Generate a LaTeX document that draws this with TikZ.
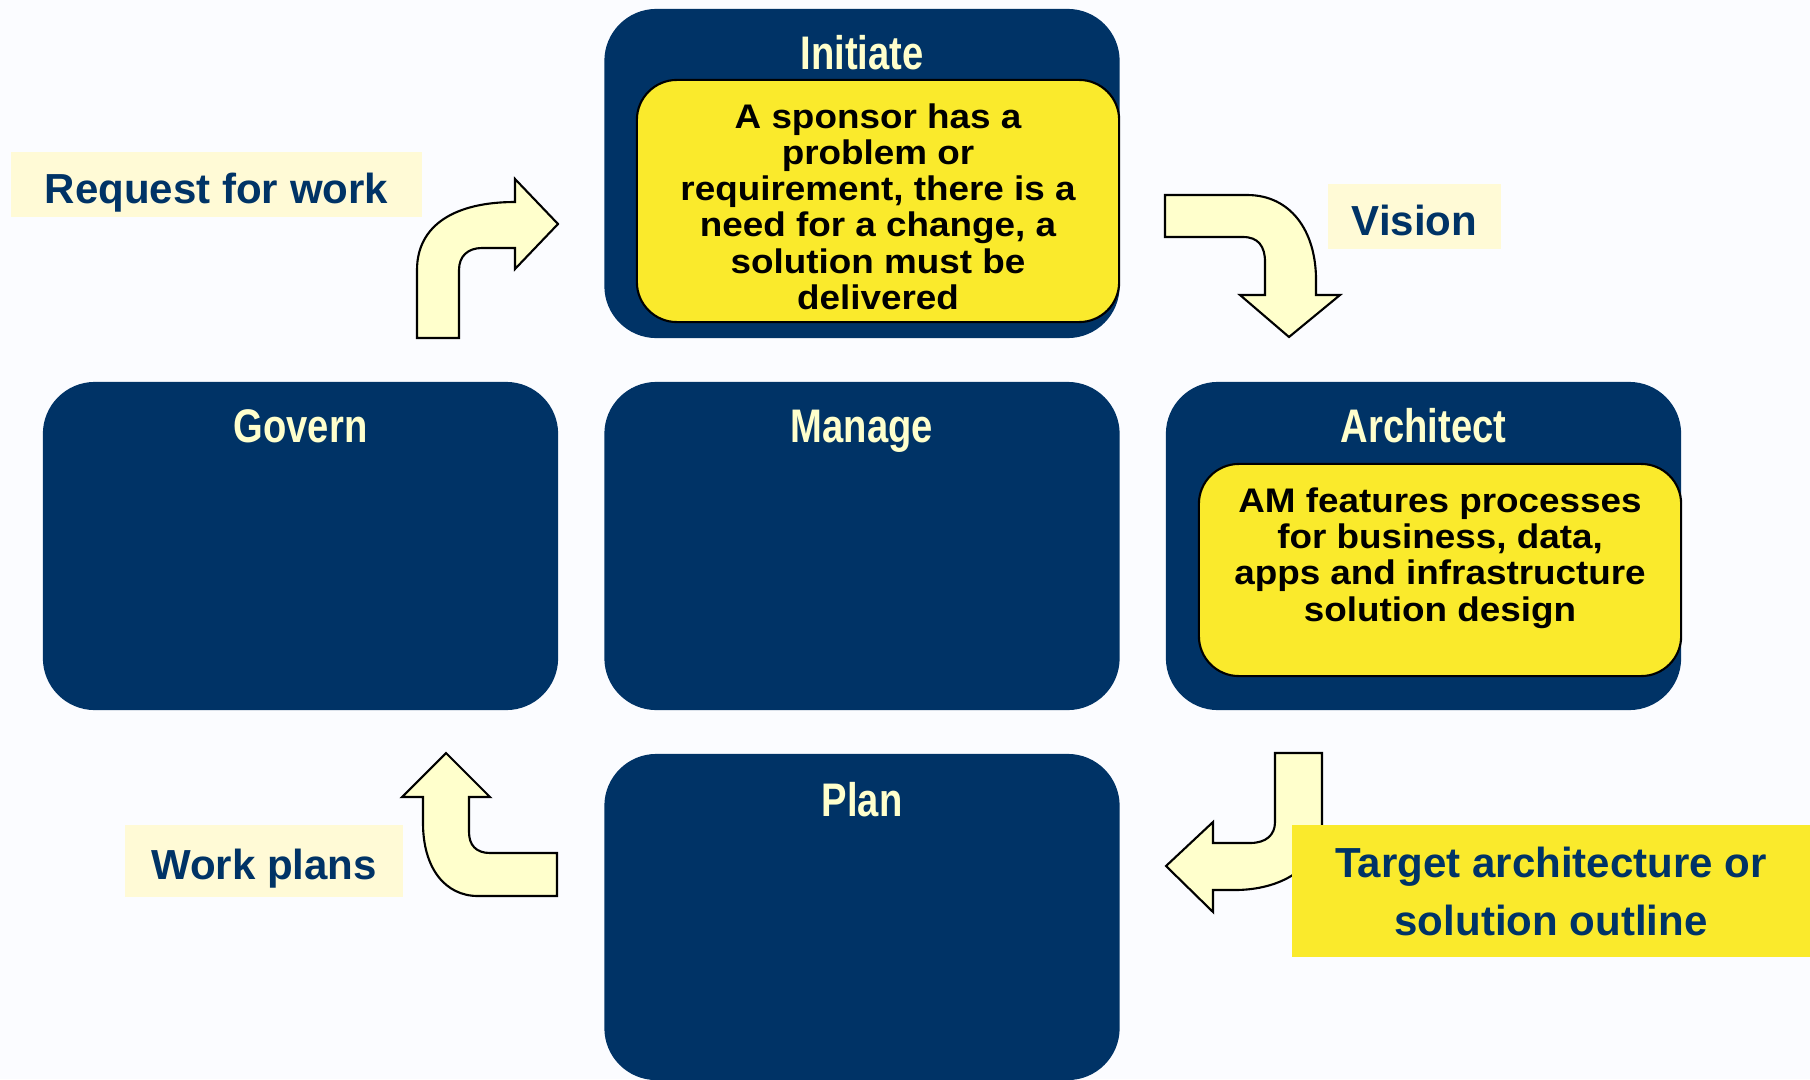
\documentclass[tikz,border=0pt]{standalone}
\usepackage{fontspec}
\setmainfont{Liberation Sans}
\newfontfamily\titlefont[FakeStretch=0.81]{Liberation Sans}
\newfontfamily\notefont[FakeStretch=1.08]{Liberation Sans}
\usepackage{tikz}
\usetikzlibrary{positioning}

\definecolor{boxnavy}{RGB}{0,51,102}
\definecolor{titlecream}{RGB}{255,255,204}
\definecolor{notefill}{RGB}{250,234,44}
\definecolor{tagfill}{RGB}{255,250,214}
\definecolor{arrowfill}{RGB}{255,255,204}
\definecolor{pagebg}{RGB}{251,252,255}

\tikzset{
  phase/.style={fill=boxnavy, rounded corners=0.52cm, inner sep=0pt,
    minimum width=5.15cm, minimum height=3.28cm},
  phasetitle/.style={anchor=base, text=titlecream, inner sep=0pt,
    font=\titlefont\bfseries\fontsize{13.4}{16}\selectfont},
  note/.style={fill=notefill, draw=black, line width=0.6pt,
    rounded corners=0.4cm, inner sep=0pt, minimum width=4.82cm},
  notetext/.style={align=center, inner sep=0pt,
    font=\notefont\bfseries\fontsize{9.7}{10.3}\selectfont},
  tag/.style={fill=tagfill, text=boxnavy, inner sep=0pt, align=center,
    text depth=0pt, font=\bfseries\fontsize{11.95}{16.6}\selectfont},
  bent/.style={fill=arrowfill, draw=black, line width=0.6pt}
}

\begin{document}
\begin{tikzpicture}[x=0.01cm, y=-0.01cm]
  \fill[pagebg] (0,0) rectangle (1810,1079);
  \useasboundingbox (0,0) rectangle (1810,1079);

  \node[phase, minimum height=3.29cm] (initiate) at (862,173.5) {};
  \node[phase] (govern) at (300.5,546) {};
  \node[phase] (manage) at (862,546) {};
  \node[phase] (architect) at (1423.5,546) {};
  \node[phase, minimum height=3.26cm] (plan) at (862,917) {};

  \node[note, minimum height=2.42cm] (initiatenote) at (878,201) {};
  \node[note, minimum height=2.12cm] (architectnote) at (1440,570) {};

  \node[phasetitle] (initiatetitle) at ([yshift=-0.61cm]initiate.north) {Initiate};
  \node[phasetitle] (governtitle) at ([yshift=-0.61cm]govern.north) {Govern};
  \node[phasetitle] (managetitle) at ([yshift=-0.61cm]manage.north) {Manage};
  \node[phasetitle] (architecttitle) at ([yshift=-0.61cm]architect.north) {Architect};
  \node[phasetitle] (plantitle) at ([yshift=-0.63cm]plan.north) {Plan};

  \node[notetext] (initiatetext) at (878,206.5)
    {A sponsor has a\\problem or\\requirement, there is a\\need for a change, a\\solution must be\\delivered};
  \node[notetext] (architecttext) at (1440,558)
    {AM features processes\\for business, data,\\apps and infrastructure\\solution design};

  \draw[bent] (417,338) -- (417,270) .. controls (417,225) and (455,202) .. (515,202)
    -- (515,179) -- (558,224) -- (515,269) -- (515,248) -- (482,248)
    .. controls (468,248) and (459,256) .. (459,270) -- (459,338) -- cycle;
  \draw[bent] (1165,195) -- (1247,195) .. controls (1290,195) and (1316,230) .. (1316,280)
    -- (1316,295) -- (1340,295) -- (1289,337) -- (1240,295) -- (1265,295) -- (1265,262)
    .. controls (1265,246) and (1258,237) .. (1243,237) -- (1165,237) -- cycle;
  \draw[bent] (557,853) -- (490,853) .. controls (476,853) and (469,845) .. (469,832)
    -- (469,797) -- (490,797) -- (446,753) -- (402,797) -- (423,797) -- (423,823)
    .. controls (423,868) and (445,896) .. (478,896) -- (557,896) -- cycle;
  \draw[bent] (1275,753) -- (1322,753) -- (1322,822) .. controls (1322,868) and (1280,890) .. (1235,890)
    -- (1213,890) -- (1213,912) -- (1166,866) -- (1213,822) -- (1213,843) -- (1250,843)
    .. controls (1266,843) and (1275,835) .. (1275,822) -- cycle;

  \node[tag, text height=0.37cm, minimum width=4.11cm, minimum height=0.65cm] (request) at (216.5,184.5) {Request for work};
  \node[tag, text height=0.37cm, minimum width=1.73cm, minimum height=0.65cm] (vision) at (1414.5,216.5) {Vision};
  \node[tag, text height=0.37cm, minimum width=2.78cm, minimum height=0.72cm] (workplans) at (264,861) {Work plans};
  \node[tag, fill=notefill, minimum width=5.18cm, minimum height=1.32cm] (target) at (1551,891)
    {Target architecture or\\solution outline};
\end{tikzpicture}
\end{document}
